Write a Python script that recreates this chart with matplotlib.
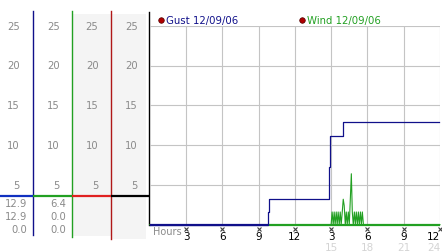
import matplotlib
matplotlib.use("Agg")
import matplotlib.pyplot as plt
from matplotlib.transforms import blended_transform_factory as blend

# ---- data ----
gust_hours = [0.0, 9.75, 9.83, 14.85, 14.92, 16.0, 23.9]
gust_vals = [0.0, 1.6, 3.2, 7.2, 11.2, 12.9, 12.9]

wind_hours = [0.0, 15.00, 15.08, 15.17, 15.25, 15.33, 15.42, 15.50, 15.58, 15.67,
              15.75, 15.83, 15.92, 16.00, 16.08, 16.17, 16.25, 16.33, 16.42, 16.50,
              16.58, 16.67, 16.75, 16.83, 16.92, 17.00, 17.08, 17.17, 17.25, 17.33,
              17.42, 17.50, 17.58, 17.67, 24.0]
wind_vals = [0.0, 0.0, 1.6, 0.0, 1.6, 0.0, 1.6, 0.0, 1.6, 0.0,
             1.6, 0.0, 1.6, 3.2, 2.4, 0.0, 1.6, 0.0, 1.6, 0.0,
             3.0, 6.4, 1.6, 0.0, 1.6, 0.0, 1.6, 0.0, 1.6, 0.0,
             1.6, 0.0, 1.6, 0.0, 0.0]

scale_ticks = [5, 10, 15, 20, 25]
hour_ticks = [3, 6, 9, 12, 15, 18, 21, 24]
hour_labels = ["3", "6", "9", "12", "3", "6", "9", "12"]
pm_ticks = [15, 18, 21, 24]
pm_labels = ["15", "18", "21", "24"]
gust_stats = ["12.9", "12.9", "0.0"]
wind_stats = ["6.4", "0.0", "0.0"]
legend_labels = ["Gust 12/09/06", "Wind 12/09/06"]

NAVY = "#10108a"
GREEN = "#22a022"
RED = "#b01818"
GRAY = "#8a8a8a"
GRID = "#c4c4c4"

W, H = 442, 253
fig = plt.figure(figsize=(W / 100, H / 100), dpi=100)
fig.patch.set_facecolor("white")

# overlay in pixel coordinates
ov = fig.add_axes([0, 0, 1, 1])
ov.set_xlim(0, W)
ov.set_ylim(H, 0)
ov.axis("off")

# main plot
x0, x1, ytop, ybot = 149.7, 440.0, 26.7, 225.7
ax = fig.add_axes([x0 / W, (H - ybot) / H, (x1 - x0) / W, (ybot - ytop) / H])
ax.set_facecolor("none")
ax.set_xlim(0, 24)
ax.set_ylim(0, 25)
for s in ax.spines.values():
    s.set_visible(False)
ax.set_xticks(hour_ticks)
ax.set_yticks(scale_ticks)
ax.tick_params(length=0, labelbottom=False, labelleft=False)
ax.grid(True, color=GRID, lw=0.8)

# left panels
ov.add_patch(plt.Rectangle((73, 15), 38, 222, color="#f4f4f4", lw=0, zorder=0))
ov.add_patch(plt.Rectangle((111.5, 15), 34, 225, color="#f4f4f4", lw=0, zorder=0))
ov.plot([33, 33], [12, 236], color=NAVY, lw=1.0)
ov.plot([72.3, 72.3], [12, 238], color=GREEN, lw=1.0)
ov.plot([111, 111], [12, 240], color=RED, lw=1.0)
ov.plot([149, 149], [13, 226], color="black", lw=1.0)
ov.plot([0, 33], [196.5, 196.5], color="#1030c0", lw=1.6, solid_capstyle="butt")
ov.plot([33, 72.3], [196.5, 196.5], color=GREEN, lw=1.6, solid_capstyle="butt")
ov.plot([72.3, 111], [196.5, 196.5], color="#e02020", lw=1.6, solid_capstyle="butt")
ov.plot([111, 149], [196.5, 196.5], color="black", lw=1.6, solid_capstyle="butt")

tr_left = blend(ov.transData, ax.transData)
for xr in [20, 59.5, 98.5, 137.5]:
    for v in scale_ticks:
        ov.text(xr, v, str(v), transform=tr_left, ha="right", va="center",
                fontsize=7.2, color=GRAY)
for v in scale_ticks:
    ax.plot([146 - x0], [v], marker="x", ms=2.6, mew=0.8, color="#404040",
            transform=tr_left, clip_on=False)

for yy, s in zip([204, 217.5, 230.5], gust_stats):
    ov.text(27, yy, s, ha="right", va="center", fontsize=7.2, color=GRAY)
for yy, s in zip([204, 217.5, 230.5], wind_stats):
    ov.text(66, yy, s, ha="right", va="center", fontsize=7.2, color=GRAY)

# data
ax.plot(wind_hours, wind_vals, color=GREEN, lw=0.8, clip_on=False, zorder=3)
ax.plot([gust_hours[1], 24], [0, 0], color=GREEN, lw=1.6, clip_on=False,
        solid_capstyle="butt", zorder=3)
ax.plot(gust_hours, gust_vals, color=NAVY, lw=0.9, drawstyle="steps-post",
        clip_on=False, zorder=4)
ax.plot([0, gust_hours[1]], [0, 0], color=NAVY, lw=1.6, clip_on=False,
        solid_capstyle="butt", zorder=4)

# x labels
tr_bot = blend(ax.transData, ov.transData)
last = hour_ticks[-1]
for t, lab in zip(hour_ticks, hour_labels):
    ax.plot([t], [230], marker="x", ms=2.6, mew=0.8, color="#404040",
            transform=tr_bot, clip_on=False)
    if t == last:
        ax.text(t, 237.5, lab, transform=tr_bot, ha="right", va="center",
                fontsize=7.5, color="black")
    else:
        ax.text(t, 237.5, lab, transform=tr_bot, ha="center", va="center",
                fontsize=7.5, color="black")
for t, lab in zip(pm_ticks, pm_labels):
    ax.text(t, 248, lab, transform=tr_bot, ha="right" if t == last else "center",
            va="center", fontsize=7.5, color="#d4d4d4")
ov.text(153, 232, "Hours", ha="left", va="center", fontsize=7, color=GRAY)

# legend
for xd, lab, col in zip([161.3, 302.3], legend_labels, [NAVY, GREEN]):
    ov.plot([xd], [20.5], marker="o", ms=4, color="#b00000", mec="#500000", mew=0.5)
    ov.text(xd + 4.5, 20.7, lab, ha="left", va="center", fontsize=7.3, color=col)

fig.savefig("out.png", dpi=100)
